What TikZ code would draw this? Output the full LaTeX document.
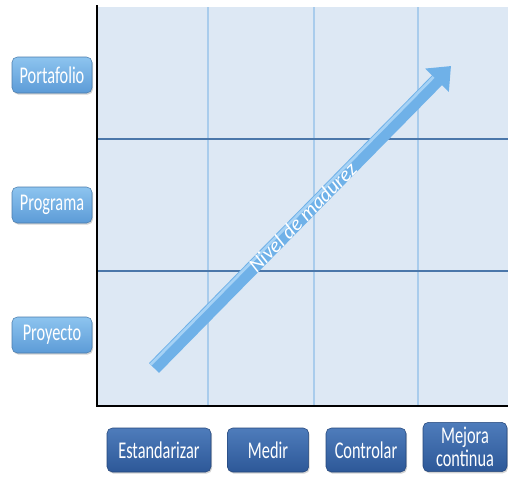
\documentclass[tikz,border=0pt]{standalone}
\usepackage{fontspec}
\setmainfont{Carlito}
\newfontfamily\tallfont[FakeStretch=0.68]{Carlito}
\usetikzlibrary{arrows.meta,shadows}
\definecolor{gridbg}{HTML}{DDE8F4}
\definecolor{gridthin}{HTML}{A9CCEC}
\definecolor{griddark}{HTML}{4B77AA}
\definecolor{lighttop}{HTML}{8DC4EF}
\definecolor{lightbot}{HTML}{5C9BD7}
\definecolor{darktop}{HTML}{4E7CBB}
\definecolor{darkbot}{HTML}{2D5898}
\definecolor{arrowblue}{HTML}{6FB1E8}
\definecolor{arrowhi}{HTML}{A6D2F5}
\begin{document}
\begin{tikzpicture}[x=0.75pt,y=-0.75pt,
  level node/.style={rounded corners=4pt,draw=lightbot!80!black,line width=0.4pt,
    top color=lighttop,bottom color=lightbot,text=white,font=\tallfont\fontsize{18}{18}\selectfont,
    minimum width=60pt,minimum height=27pt,inner sep=1pt,
    drop shadow={opacity=0.35,shadow xshift=0.8pt,shadow yshift=-1.2pt}},
  step node/.style={rounded corners=4pt,draw=darkbot!80!black,line width=0.4pt,
    top color=darktop,bottom color=darkbot,text=white,font=\tallfont\fontsize{18}{17}\selectfont,
    minimum height=33pt,inner sep=1pt,align=center,
    drop shadow={opacity=0.35,shadow xshift=0.8pt,shadow yshift=-1.2pt}}]

  \useasboundingbox (0,0) rectangle (508,476);

  % grid
  \fill[gridbg] (97,7) rectangle (508,405);
  \foreach \x in {208,314,418}
    \draw[gridthin,line width=0.8pt] (\x,7) -- (\x,405);
  \foreach \y in {139,271}
    \draw[griddark,line width=1.6pt] (97,\y) -- (508,\y);
  \draw[black,line width=2.2pt] (97,5) -- (97,406) -- (508,406);

  % levels
  \node[level node] (portafolio) at (52,75) {Portafolio};
  \node[level node] (programa) at (52,205) {Programa};
  \node[level node] (proyecto) at (52,335) {Proyecto};

  % steps
  \node[step node,minimum width=78pt] (estandarizar) at (159,450) {Estandarizar};
  \node[step node,minimum width=61pt] (medir) at (268,450) {Medir};
  \node[step node,minimum width=60pt] (controlar) at (366,450) {Controlar};
  \node[step node,minimum width=63pt,minimum height=37pt] (mejora) at (465,447)
    {\rule{0pt}{12pt}Mejora\\continua};

  % maturity arrow
  \coordinate (tail) at (154,368);
  \coordinate (head) at (451,66);
  \draw[arrowblue,line width=10.5pt,-{Triangle[width=24pt,length=15pt]}] (tail) -- (head);
  \draw[arrowhi,line width=2pt,shorten >=15pt,transform canvas={xshift=-2.5pt,yshift=2.5pt}]
    (tail) -- (head);
  \path (tail) -- node[sloped,text=white,font=\itshape\fontsize{15.5}{15.5}\selectfont]
    {Nivel de madurez} (head);
\end{tikzpicture}
\end{document}
